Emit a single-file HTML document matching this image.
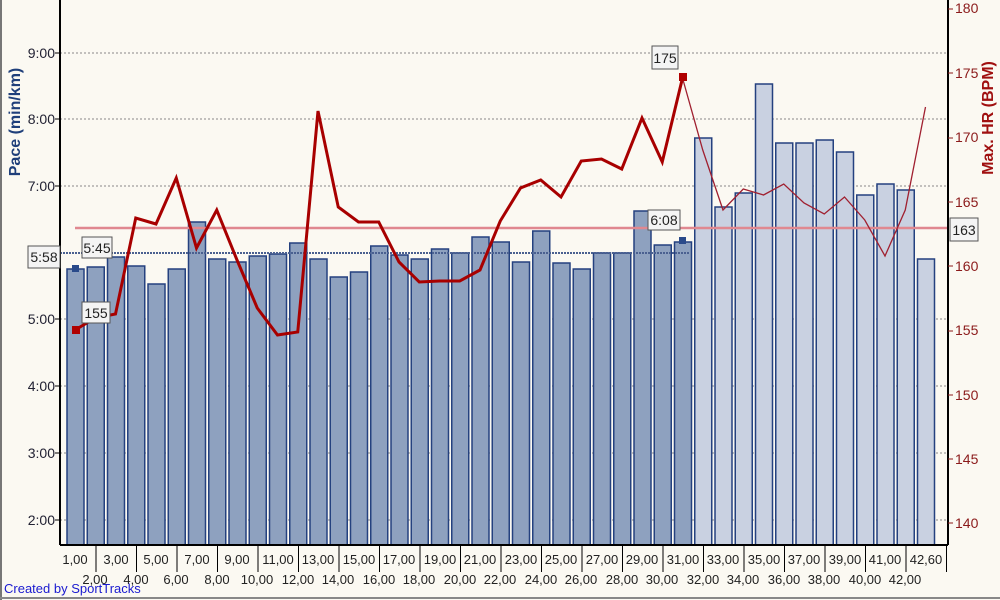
<!DOCTYPE html>
<html><head><meta charset="utf-8"><style>
body{margin:0;background:#fbf9f2;}
svg{display:block;font-family:"Liberation Sans",Arial,sans-serif;}
</style></head><body>
<svg width="1000" height="600" viewBox="0 0 1000 600" xmlns="http://www.w3.org/2000/svg">
<rect x="0" y="0" width="1000" height="600" fill="#fbf9f2"/>
<line x1="1" y1="0" x2="1" y2="600" stroke="#777" stroke-width="2"/>
<line x1="0" y1="598" x2="1000" y2="598" stroke="#888" stroke-width="2"/>
<g stroke="#888" stroke-dasharray="2,2" stroke-width="1">
<line x1="60" y1="53" x2="948" y2="53"/><line x1="60" y1="119" x2="948" y2="119"/>
<line x1="60" y1="186" x2="948" y2="186"/><line x1="60" y1="319" x2="948" y2="319"/>
<line x1="60" y1="386" x2="948" y2="386"/><line x1="60" y1="453" x2="948" y2="453"/>
<line x1="60" y1="520" x2="948" y2="520"/>
</g>
<g id="bars"></g>
<line x1="60" y1="253" x2="690" y2="253" stroke="#4a6090" stroke-dasharray="2,1" stroke-width="2"/>
<line x1="75" y1="228" x2="948" y2="228" stroke="#e08890" stroke-width="2.5"/>
<polyline id="hr1" fill="none" stroke="#a80000" stroke-width="3" stroke-linejoin="miter"/>
<polyline id="hr2" fill="none" stroke="#a02030" stroke-width="1.3"/>
<rect x="72" y="326" width="8" height="8" fill="#b00000"/>
<rect x="679" y="73" width="8" height="8" fill="#b00000"/>
<rect x="72" y="265" width="7" height="7" fill="#2a4a8a"/>
<rect x="679" y="237" width="7" height="7" fill="#2a4a8a"/>
<g stroke="#000" stroke-width="2"><line x1="60" y1="0" x2="60" y2="545"/><line x1="948" y1="0" x2="948" y2="545"/><line x1="60" y1="545" x2="948" y2="545"/></g>
<g font-size="14" fill="#223" text-anchor="end">
<text x="55" y="58">9:00</text><text x="55" y="124">8:00</text><text x="55" y="191">7:00</text>
<text x="55" y="324">5:00</text><text x="55" y="391">4:00</text><text x="55" y="458">3:00</text><text x="55" y="525">2:00</text>
</g>
<g stroke="#000"><line x1="55" y1="53" x2="60" y2="53"/><line x1="55" y1="119" x2="60" y2="119"/><line x1="55" y1="186" x2="60" y2="186"/><line x1="55" y1="319" x2="60" y2="319"/><line x1="55" y1="386" x2="60" y2="386"/><line x1="55" y1="453" x2="60" y2="453"/><line x1="55" y1="520" x2="60" y2="520"/></g>
<g font-size="14" fill="#8b1a1a">
<text x="955" y="13">180</text><text x="955" y="78">175</text><text x="955" y="142">170</text><text x="955" y="207">165</text><text x="955" y="271">160</text><text x="955" y="335">155</text><text x="955" y="400">150</text><text x="955" y="464">145</text><text x="955" y="528">140</text>
</g>
<g stroke="#8b1a1a"><line x1="948" y1="9" x2="953" y2="9"/><line x1="948" y1="73" x2="953" y2="73"/><line x1="948" y1="138" x2="953" y2="138"/><line x1="948" y1="202" x2="953" y2="202"/><line x1="948" y1="266" x2="953" y2="266"/><line x1="948" y1="331" x2="953" y2="331"/><line x1="948" y1="395" x2="953" y2="395"/><line x1="948" y1="459" x2="953" y2="459"/><line x1="948" y1="523" x2="953" y2="523"/></g>
<text transform="translate(20,122) rotate(-90)" text-anchor="middle" font-size="16" font-weight="bold" fill="#1f3f7a">Pace (min/km)</text>
<text transform="translate(993,118) rotate(-90)" text-anchor="middle" font-size="16" font-weight="bold" fill="#a01010">Max. HR (BPM)</text>
<g fill="#f4f4f4" stroke="#555" stroke-width="1">
<rect x="28" y="246" width="32" height="22"/><rect x="82" y="237" width="30" height="21"/>
<rect x="82" y="302" width="28" height="21"/><rect x="652" y="46" width="26" height="23"/>
<rect x="648" y="210" width="32" height="20"/><rect x="950" y="218" width="28" height="23"/>
</g>
<g font-size="14" fill="#222" text-anchor="middle">
<text x="44" y="262">5:58</text><text x="97" y="253">5:45</text><text x="96" y="318">155</text>
<text x="665" y="63">175</text><text x="664" y="225">6:08</text><text x="964" y="235">163</text>
</g>
<g id="ticks" stroke="#000"></g>
<g font-size="13" fill="#222" text-anchor="middle">
<text x="75" y="564">1,00</text><text x="95" y="584">2,00</text><text x="116" y="564">3,00</text><text x="136" y="584">4,00</text><text x="156" y="564">5,00</text><text x="176" y="584">6,00</text><text x="197" y="564">7,00</text><text x="217" y="584">8,00</text><text x="237" y="564">9,00</text><text x="257" y="584">10,00</text><text x="278" y="564">11,00</text><text x="298" y="584">12,00</text><text x="318" y="564">13,00</text><text x="338" y="584">14,00</text><text x="359" y="564">15,00</text><text x="379" y="584">16,00</text><text x="399" y="564">17,00</text><text x="419" y="584">18,00</text><text x="440" y="564">19,00</text><text x="460" y="584">20,00</text><text x="480" y="564">21,00</text><text x="500" y="584">22,00</text><text x="521" y="564">23,00</text><text x="541" y="584">24,00</text><text x="561" y="564">25,00</text><text x="581" y="584">26,00</text><text x="602" y="564">27,00</text><text x="622" y="584">28,00</text><text x="642" y="564">29,00</text><text x="662" y="584">30,00</text><text x="683" y="564">31,00</text><text x="703" y="584">32,00</text><text x="723" y="564">33,00</text><text x="743" y="584">34,00</text><text x="764" y="564">35,00</text><text x="784" y="584">36,00</text><text x="804" y="564">37,00</text><text x="824" y="584">38,00</text><text x="845" y="564">39,00</text><text x="865" y="584">40,00</text><text x="885" y="564">41,00</text><text x="905" y="584">42,00</text><text x="926" y="564">42,60</text>
</g>
<text x="4" y="593" font-size="13" fill="#1a1ad0">Created by SportTracks</text>
</svg>
<script>
var tops=[269,267,257,266,284,269,222,259,262,256,254,243,259,277,272,246,255,259,249,253,237,242,262,231,263,269,253,253,211,245,242,138,207,193,84,143,143,140,152,195,184,190,259];
var hr=[330,318,314,218,224,178,248,210,260,308,335,332,111,207,222,222,262,282,281,281,270,221,188,180,197,161,159,169,118,162,78,150,210,189,195,184,203,214,197,220,256,210,107];
var g=document.getElementById("bars"),s="";
for(var i=0;i<43;i++){var x=67+i*20.25,d=i<31;
s+='<rect x="'+x+'" y="'+tops[i]+'" width="17" height="'+(545-tops[i])+'" fill="'+(d?'#8ea1bf':'#c9d1e1')+'" stroke="#24417f" stroke-width="1.5"/>';}
g.innerHTML=s;
var p1="",p2="";
for(i=0;i<43;i++){var cx=75+i*20.25;if(i<=30)p1+=cx+","+hr[i]+" ";if(i>=30)p2+=cx+","+hr[i]+" ";}
document.getElementById("hr1").setAttribute("points",p1);
document.getElementById("hr2").setAttribute("points",p2);
var t="";for(i=0;i<22;i++){var tx=96+i*40.5;if(tx<948)t+='<line x1="'+tx+'" y1="545" x2="'+tx+'" y2="572"/>';}
document.getElementById("ticks").innerHTML=t;
</script>
</body></html>
